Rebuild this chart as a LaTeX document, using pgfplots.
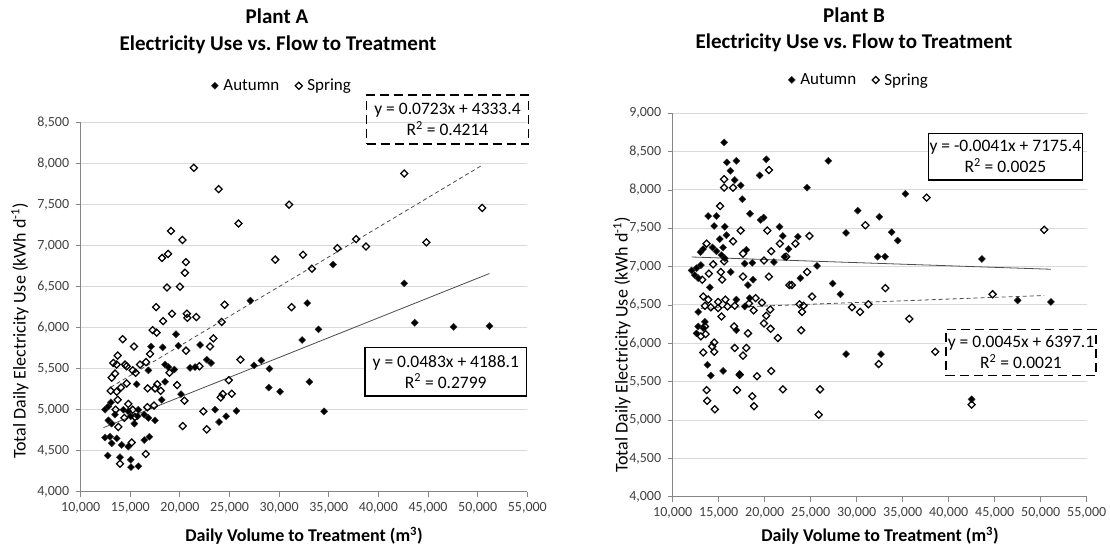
\documentclass[border=0pt]{standalone}
\usepackage{fontspec}
\setmainfont{Carlito}
\usepackage{pgfplots}
\pgfplotsset{compat=1.18}
\definecolor{axgray}{HTML}{868686}
\definecolor{gridgray}{HTML}{D9D9D9}
\definecolor{ticktext}{HTML}{404040}
\tikzset{boxtext/.style={align=center, inner sep=0pt, font=\fontsize{17.5}{21}\selectfont}}
\pgfplotsset{
  myaxis/.style={
    scale only axis,
    anchor=south west,
    xmin=10000, xmax=55000,
    xtick distance=5000,
    ymin=4000,
    ytick distance=500,
    scaled ticks=false,
    axis x line*=bottom, axis y line*=left,
    axis line style={axgray, line width=0.9pt, -},
    tick style={axgray, line width=0.9pt},
    tick align=outside,
    major tick length=5pt,
    ymajorgrids,
    grid style={gridgray, line width=1pt},
    /pgf/number format/1000 sep={,},
    /pgf/number format/assume math mode=true,
    ticklabel style={font=\fontsize{14}{16}\selectfont, text=ticktext},
    yticklabel style={xshift=-3pt},
    xticklabel style={yshift=-2pt},
    clip=false,
    legend style={draw=none, fill=none, legend columns=-1,
      font=\fontsize{17}{20}\selectfont,
      /tikz/every odd column/.append style={column sep=3pt},
      /tikz/every even column/.append style={column sep=14pt}},
  },
  autumn/.style={only marks, mark=square*, mark size=2.5pt,
    mark options={rotate=45, fill=black, draw=black!80, line width=0.4pt}},
  spring/.style={only marks, mark=square, mark size=2.5pt,
    mark options={rotate=45, draw=black, line width=1.25pt}},
}
\begin{document}
\frenchspacing
\begin{tikzpicture}
\useasboundingbox (0,0) rectangle (1110pt,548pt);
% ---------------- Plant A ----------------
\node[anchor=base, font=\bfseries\fontsize{21}{24}\selectfont] at (277pt,524pt) {Plant A};
\node[anchor=base, font=\bfseries\fontsize{21}{24}\selectfont] at (278pt,497.5pt) {Electricity Use vs. Flow to Treatment};
\node[anchor=base, font=\bfseries\fontsize{18}{20}\selectfont] at (304pt,6pt) {Daily Volume to Treatment (m\textsuperscript{3})};
\node[anchor=center, rotate=90, font=\fontsize{18}{20}\selectfont] at (20pt,217pt) {Total Daily Electricity Use (kWh d\textsuperscript{-1})};
\begin{axis}[myaxis, at={(80.7pt,56.3pt)}, width=446.6pt, height=369pt, ymax=8500,
  legend style={at={(0.451,1.10)}, anchor=center}]
\addplot[autumn] coordinates {
(19600,5920) (17090,5770) (18260,5760) (19840,5780) (22030,5790) (22700,5610) (23130,5570)
(18500,5550) (18830,5520) (19440,5490) (21020,5510) (21520,5520) (16820,5480)
(15640,5310) (18500,5340) (20110,5190) (18160,5120) (12450,5000) (12790,5040) (13050,5090)
(13460,4940) (14300,5000) (14800,4980) (15040,4920) (15810,5000) (15740,4920) (16410,4940)
(16820,4900) (17490,4870) (15410,4830) (13120,4830) (12790,4870) (23540,5000) (12450,4660)
(12950,4670) (13630,4650) (13120,4590) (14130,4570) (14800,4550) (16410,4630) (16920,4670)
(12720,4440) (13960,4420) (15040,4390) (15810,4310) (15070,4300)
(27100,6330) (27470,5540) (28210,5600) (29020,5500) (28950,5270) (30090,5220) (32310,5850)
(33050,5340) (24650,4920) (23940,4850) (25690,4985)
(35430,6770) (42600,6540) (32830,6300) (43660,6060) (33960,5980) (47570,6010) (51190,6020)
(34530,4980)
};
\addlegendentry{Autumn}
\addplot[spring] coordinates {
(21400,7950) (23900,7690) (31000,7500) (25900,7270) (19100,7180) (20250,7070) (18200,6850)
(18800,6900) (20600,6800) (20500,6670) (29600,6830) (32400,6890) (18700,6490) (20000,6500)
(24500,6280) (17600,6250) (19200,6170) (20700,6170) (20750,6120) (21650,6130) (18300,6080)
(24200,6070) (31250,6250) (17250,5970) (17650,5940) (26100,5610)
(42600,7880) (50450,7460) (44830,7040) (37750,7080) (38750,6990) (35870,6970) (33300,6720)
(14230,5860) (15370,5770) (20610,5720) (23370,5870) (23030,5770) (16990,5680) (13730,5660)
(13290,5570) (13630,5550) (14470,5550) (14630,5530) (15980,5550) (16580,5580) (15240,5480)
(15540,5450) (13460,5440) (13120,5390) (21960,5530) (14630,5320) (14060,5270) (13630,5220)
(13020,5230) (16750,5260) (17720,5310) (18060,5230) (17490,5260) (19710,5300) (13730,5120)
(20450,5110) (24110,5150) (24310,5190) (14800,5070) (16720,5030) (17390,5050) (15240,5000)
(13520,5000) (22360,4980) (14400,4900) (15470,4910) (13790,4790) (20280,4800) (22700,4760)
(15140,4600) (16550,4460) (13960,4340) (18950,5450) (24920,5360) (25220,5195)
};
\addlegendentry{Spring}
\addplot[forget plot, black!70, line width=0.8pt] coordinates {(12300,4782) (51190,6661)};
\addplot[forget plot, black!70, line width=0.8pt, dash pattern=on 4pt off 3pt] coordinates {(13020,5274) (50450,7981)};
\node[draw, line width=1.5pt, dash pattern=on 9pt off 5pt, minimum width=161.6pt, minimum height=49pt, boxtext]
  at (rel axis cs:0.8213,1.0087) {y = 0.0723x + 4333.4\\R\textsuperscript{2} = 0.4214};
\node[draw, line width=1.2pt, fill=white, minimum width=161.7pt, minimum height=48.7pt, boxtext]
  at (rel axis cs:0.8175,0.3252) {y = 0.0483x + 4188.1\\R\textsuperscript{2} = 0.2799};
\end{axis}
% ---------------- Plant B ----------------
\node[anchor=base, font=\bfseries\fontsize{21}{24}\selectfont] at (854pt,525pt) {Plant B};
\node[anchor=base, font=\bfseries\fontsize{21}{24}\selectfont] at (854pt,499pt) {Electricity Use vs. Flow to Treatment};
\node[anchor=base, font=\bfseries\fontsize{18}{20}\selectfont] at (880pt,6pt) {Daily Volume to Treatment (m\textsuperscript{3})};
\node[anchor=center, rotate=90, font=\fontsize{18}{20}\selectfont] at (622pt,203pt) {Total Daily Electricity Use (kWh d\textsuperscript{-1})};
\begin{axis}[myaxis, at={(672.7pt,51.3pt)}, width=414pt, height=383.4pt, ymax=9000,
  legend style={at={(0.45,1.087)}, anchor=center}]
\addplot[autumn] coordinates {
(15590,8620) (15880,8360) (16920,8380) (20170,8400) (26910,8380) (16270,8250) (16740,8130)
(17390,8060) (19450,8190) (24600,8030) (17570,7880) (18400,7690) (13860,7660) (14760,7660)
(19560,7610) (19880,7640) (14500,7530) (15660,7520) (15840,7410) (15120,7360) (21610,7520)
(21970,7400) (23600,7390) (13030,7190) (13310,7230) (14330,7250) (14760,7200) (15480,7250)
(15300,7150) (15660,7110) (18000,7220) (22590,7230) (17820,7040) (18650,7050) (21000,7060)
(25690,7010) (12050,6950) (12590,6980) (13060,7020) (16310,6930) (22150,7130)
(14040,6730) (18180,6760) (18730,6830) (23880,6850) (27380,6780) (12770,6410) (16920,6570)
(18370,6590) (17820,6480) (12770,6220) (13320,6200) (13500,6280) (12590,6130) (16920,6170)
(13780,5720) (14140,5580) (15480,5640) (17280,5600) (12400,6890) (12770,6850)
(35290,7950) (30110,7730) (32460,7650) (28840,7440) (33800,7450) (34450,7340) (32280,7130)
(33080,7130) (43610,7100) (28230,6640) (47490,6560) (51110,6540) (28840,5860) (32640,5860)
(42490,5270)
};
\addlegendentry{Autumn}
\addplot[spring] coordinates {
(20460,8260) (15590,8140) (15590,8030) (16560,8030) (15150,7790) (17390,7470) (20280,7470)
(24860,7400) (16560,7330) (13680,7300) (21650,7300) (23340,7300) (20710,7200) (17640,7170)
(22330,7130) (19920,7080) (15590,7070) (14400,7030) (24610,6930)
(13930,6910) (15230,6930) (15370,6830) (13210,6830) (17640,6870) (20460,6870) (22690,6760)
(22950,6760) (25150,6610) (13320,6610) (13860,6570) (14940,6540) (15730,6570) (13500,6490)
(14140,6470) (14940,6460) (15950,6480) (16740,6490) (18290,6520) (19010,6590) (19700,6530)
(18800,6430) (20600,6440) (20170,6360) (23780,6510) (24210,6490) (24060,6410) (15300,6350)
(19920,6260) (16670,6220) (20640,6190) (18180,6130) (21430,6070) (23960,6170) (13500,6220)
(13060,6090) (13570,6120) (14510,6010) (14290,5960) (14510,5890) (13320,5880) (16740,5940)
(18000,5940) (17640,5840) (17280,5590) (19160,5570) (20710,5640) (13680,5390) (16990,5390)
(21970,5400) (26010,5400) (13750,5250) (18650,5310) (18830,5180) (14580,5140) (25870,5070)
(37600,7900) (30940,7540) (50380,7480) (33110,6720) (44770,6640) (29490,6470) (30360,6410)
(31270,6510) (35720,6320) (38540,5890) (32390,5730) (42490,5200)
};
\addlegendentry{Spring}
\addplot[forget plot, black!70, line width=0.8pt] coordinates {(12050,7126) (51110,6966)};
\addplot[forget plot, black!70, line width=0.8pt, dash pattern=on 4pt off 3pt] coordinates {(13060,6456) (50380,6624)};
\node[draw, line width=1.2pt, fill=white, minimum width=154pt, minimum height=46.7pt, boxtext]
  at (rel axis cs:0.8034,0.8868) {y = -0.0041x + 7175.4\\R\textsuperscript{2} = 0.0025};
\node[draw, line width=1.5pt, dash pattern=on 9pt off 5pt, fill=white, minimum width=150pt, minimum height=46.4pt, boxtext]
  at (rel axis cs:0.8413,0.3761) {y = 0.0045x + 6397.1\\R\textsuperscript{2} = 0.0021};
\end{axis}
\end{tikzpicture}
\end{document}
